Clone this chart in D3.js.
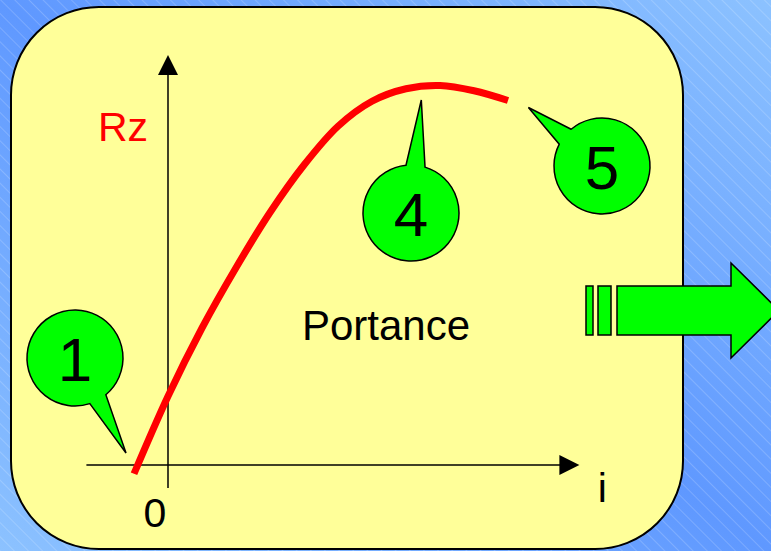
<!DOCTYPE html>
<html>
<head>
<meta charset="utf-8">
<script src="https://cdn.jsdelivr.net/npm/d3@7"></script>
<style>
  body { margin: 0; overflow: hidden; }
  text { font-family: "Liberation Sans", Arial, sans-serif; }
</style>
</head>
<body>
<script>
// incidence i (deg) and lift Rz
var incidence = [-2, 0, 2, 4, 6, 8, 10, 12, 14, 16, 18, 20];
var rz = [-0.035, 0.275, 0.548, 0.789, 1.01, 1.2, 1.355, 1.455, 1.505, 1.518, 1.497, 1.458];

var calloutLabels = ["1", "4", "5"];
var axisLabels = { x: "i", y: "Rz", origin: "0" };
var title = "Portance";

var w = 771,
  h = 551;

var x = d3.scaleLinear().domain([0, 20]).range([168, 508]);
var y = d3.scaleLinear().domain([0, 1.5]).range([465, 90]);

var svg = d3.select("body").append("svg").attr("width", w).attr("height", h);
var defs = svg.append("defs");

var grad = defs
  .append("linearGradient")
  .attr("id", "bg")
  .attr("x1", 0)
  .attr("y1", 1)
  .attr("x2", 1)
  .attr("y2", 0);
grad.append("stop").attr("offset", 0).attr("stop-color", "#8cc2ff");
grad.append("stop").attr("offset", 0.5).attr("stop-color", "#5f98ff");
grad.append("stop").attr("offset", 1).attr("stop-color", "#8cc2ff");

var hatch = defs
  .append("pattern")
  .attr("id", "hatch")
  .attr("width", 10)
  .attr("height", 10)
  .attr("patternUnits", "userSpaceOnUse")
  .attr("patternTransform", "rotate(-45)");
hatch
  .append("line")
  .attr("x1", 0)
  .attr("y1", 0)
  .attr("x2", 0)
  .attr("y2", 10)
  .attr("stroke", "#ffffff")
  .attr("stroke-opacity", 0.35)
  .attr("stroke-width", 1);

svg.append("rect").attr("width", w).attr("height", h).attr("fill", "url(#bg)");
svg.append("rect").attr("width", w).attr("height", h).attr("fill", "url(#hatch)");

// yellow card
svg
  .append("rect")
  .attr("x", 11)
  .attr("y", 7)
  .attr("width", 672)
  .attr("height", 542)
  .attr("rx", 88)
  .attr("fill", "#ffff99")
  .attr("stroke", "#000")
  .attr("stroke-width", 2);

// axes with arrow heads
var x0 = x(0),
  y0 = y(0);
var xEnd = x(24.2),
  yEnd = y(1.64);

svg
  .append("line")
  .attr("x1", x(-4.8))
  .attr("x2", xEnd - 18)
  .attr("y1", y0)
  .attr("y2", y0)
  .attr("stroke", "#000")
  .attr("stroke-width", 1.5);
svg
  .append("path")
  .attr("d", "M" + xEnd + "," + y0 + "L" + (xEnd - 20) + "," + (y0 - 10) + "L" + (xEnd - 20) + "," + (y0 + 10) + "Z")
  .attr("fill", "#000");

svg
  .append("line")
  .attr("x1", x0)
  .attr("x2", x0)
  .attr("y1", y(-0.092))
  .attr("y2", yEnd + 18)
  .attr("stroke", "#000")
  .attr("stroke-width", 1.5);
svg
  .append("path")
  .attr("d", "M" + x0 + "," + yEnd + "L" + (x0 - 10) + "," + (yEnd + 20) + "L" + (x0 + 10) + "," + (yEnd + 20) + "Z")
  .attr("fill", "#000");

svg
  .append("text")
  .attr("x", x0 - 13)
  .attr("y", y0 + 62)
  .attr("text-anchor", "middle")
  .attr("font-size", 41)
  .text(axisLabels.origin);
svg
  .append("text")
  .attr("x", xEnd + 23)
  .attr("y", y0 + 37)
  .attr("text-anchor", "middle")
  .attr("font-size", 41)
  .text(axisLabels.x);
svg
  .append("text")
  .attr("x", x0 - 70)
  .attr("y", yEnd + 86)
  .attr("fill", "#ff0000")
  .attr("font-size", 41)
  .text(axisLabels.y);

// lift curve
var line = d3
  .line()
  .x(function (d, i) {
    return x(incidence[i]);
  })
  .y(function (d) {
    return y(d);
  })
  .curve(d3.curveCatmullRom.alpha(0.5));

svg
  .append("path")
  .datum(rz)
  .attr("d", line)
  .attr("fill", "none")
  .attr("stroke", "#ff0000")
  .attr("stroke-width", 7);

svg
  .append("text")
  .attr("x", 386)
  .attr("y", 340)
  .attr("text-anchor", "middle")
  .attr("font-size", 42)
  .text(title);

// speech bubbles: tail tip given in chart units
var bubbles = [
  { cx: 75, cy: 358, a: [72, 50], tip: [-2.47, 0.048] },
  { cx: 411, cy: 213, a: [-96, -73], tip: [14.9, 1.46] },
  { cx: 602, cy: 166, a: [-130, -153], tip: [21.2, 1.43] }
];
var r = 48;

function bubblePath(b) {
  var t1 = (b.a[0] * Math.PI) / 180,
    t2 = (b.a[1] * Math.PI) / 180;
  var p1 = [b.cx + r * Math.cos(t1), b.cy + r * Math.sin(t1)];
  var p2 = [b.cx + r * Math.cos(t2), b.cy + r * Math.sin(t2)];
  var sweep = t2 > t1 ? 1 : 0;
  return (
    "M" + p1 + "L" + x(b.tip[0]) + "," + y(b.tip[1]) + "L" + p2 +
    "A" + r + "," + r + " 0 1 " + sweep + " " + p1 + "Z"
  );
}

var g = svg
  .selectAll("g.bubble")
  .data(bubbles)
  .enter()
  .append("g")
  .attr("class", "bubble");

g.append("path")
  .attr("d", bubblePath)
  .attr("fill", "#00ff00")
  .attr("stroke", "#000")
  .attr("stroke-width", 1.5)
  .attr("stroke-linejoin", "miter");

g.append("text")
  .attr("x", function (d) {
    return d.cx;
  })
  .attr("y", function (d) {
    return d.cy + 23;
  })
  .attr("text-anchor", "middle")
  .attr("font-size", 62)
  .text(function (d, i) {
    return calloutLabels[i];
  });

// green "next" arrow
var arrow = svg.append("g").attr("fill", "#00ff00").attr("stroke", "#000").attr("stroke-width", 1.5);
arrow.append("rect").attr("x", 586).attr("y", 286).attr("width", 7).attr("height", 49);
arrow.append("rect").attr("x", 598).attr("y", 286).attr("width", 13).attr("height", 49);
arrow
  .append("path")
  .attr("d", "M617,286L731,286L731,263L779,310.5L731,358L731,335L617,335Z");
</script>
</body>
</html>
